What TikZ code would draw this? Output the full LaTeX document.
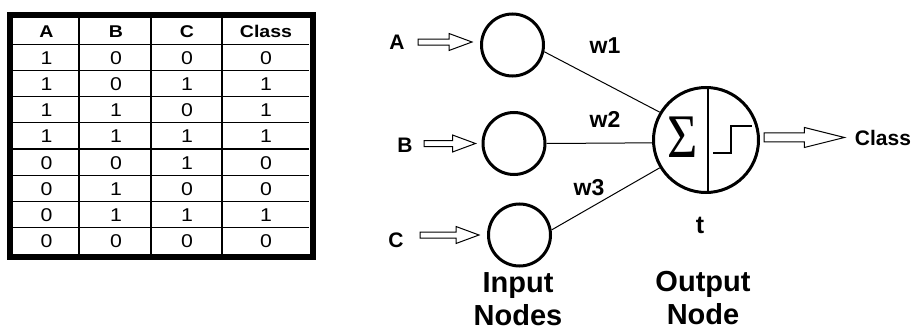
\documentclass[tikz,border=0pt]{standalone}
\usepackage{fontspec}
\setmainfont{Liberation Sans}
\newfontfamily\tablefont[FakeStretch=1.15]{Liberation Sans}
\newfontfamily\sigmafont{Liberation Serif}
\usetikzlibrary{calc}

% hollow block arrow: #1 start point, #2 tip point, #3 shaft half-height,
% #4 head half-height, #5 head length (the arrow runs at the tip's height)
\newcommand{\hollowarrow}[5]{%
  \draw[hollow] let \p1=(#1), \p2=(#2) in
    (\x1,{\y2+#3}) -- ({\x2-#5},{\y2+#3}) -- ({\x2-#5},{\y2+#4}) -- (\x2,\y2)
    -- ({\x2-#5},{\y2-#4}) -- ({\x2-#5},{\y2-#3}) -- (\x1,{\y2-#3}) -- cycle;}

\begin{document}
\begin{tikzpicture}[x=1pt,y=-1pt,
  cell/.style={font=\tablefont\fontsize{18.5}{18.5}\selectfont, anchor=base, inner sep=0pt},
  headcell/.style={font=\tablefont\fontsize{17}{17}\selectfont\bfseries, anchor=base, inner sep=0pt},
  lbl/.style={font=\fontsize{21}{21}\selectfont\bfseries, anchor=base},
  wlbl/.style={font=\fontsize{23}{23}\selectfont\bfseries, anchor=base, inner sep=0pt},
  caption/.style={font=\fontsize{29}{33}\selectfont\bfseries, align=center, anchor=north, inner sep=0pt},
  inode/.style={circle, draw, line width=3pt, minimum size=62pt, inner sep=0pt},
  onode/.style={circle, draw, line width=3pt, minimum size=105pt, inner sep=0pt},
  wire/.style={line width=1pt},
  hollow/.style={draw, line width=1pt, fill=white, line join=miter},
  grid/.style={line width=1.3pt},
]
\useasboundingbox (0,0) rectangle (914,332);

% ---------- truth table ----------
\foreach \cx in {79,151,222} \draw[grid] (\cx,18) -- (\cx,254);
\foreach \r in {1,...,8} \draw[grid] (13,{18+26.2*\r}) -- (309,{18+26.2*\r});
\draw[line width=6pt] (10,15) rectangle (312.5,257);

\foreach \h/\cx [count=\j] in {A/46.5,B/116,C/187,Class/266}
  \node[headcell] (h\j) at (\cx,37) {\h};

\foreach \a/\b/\c/\k [count=\r] in {1/0/0/0,1/0/1/1,1/1/0/1,1/1/1/1,0/0/1/0,0/1/0/0,0/1/1/1,0/0/0/0}{
  \pgfmathsetmacro\yb{18+26.2*\r+13.1+7}
  \node[cell] (r\r a) at (46.5,\yb) {\a};
  \node[cell] (r\r b) at (116,\yb) {\b};
  \node[cell] (r\r c) at (187,\yb) {\c};
  \node[cell] (r\r k) at (266,\yb) {\k};
}

% ---------- perceptron ----------
\node[inode] (ia) at (512.5,45) {};
\node[inode] (ib) at (514,143.5) {};
\node[inode] (ic) at (519.5,235) {};
\node[onode] (out) at (706,140) {};

\node[lbl] (la) at (397,49) {A};
\node[lbl] (lb) at (405,152) {B};
\node[lbl] (lc) at (396,247) {C};

\coordinate (sa) at ($(la.east)+(10,0)$);
\coordinate (sb) at ($(lb.east)+(8,0)$);
\coordinate (sc) at ($(lc.east)+(13,0)$);
\coordinate (ta) at ($(ia.west)+(-8,-3)$);
\coordinate (tb) at ($(ib.west)+(-6,0)$);
\coordinate (tc) at ($(ic.west)+(-8,0)$);
\hollowarrow{sa}{ta}{3pt}{8.5pt}{23pt}
\hollowarrow{sb}{tb}{3pt}{8.5pt}{23pt}
\hollowarrow{sc}{tc}{3pt}{8.5pt}{23pt}

% weighted connections into the output node
\draw[wire] (ia.-12) -- (out.149);
\draw[wire] (ib.east) -- (out.183);
\draw[wire] (ic.9) -- (out.211);

\node[wlbl] (w1) at (605,53) {w1};
\node[wlbl] (w2) at (605,127) {w2};
\node[wlbl] (w3) at (589,195) {w3};

% summation and step function inside the output node
\draw[line width=1.3pt] ($(out.north)+(2,2)$) -- ($(out.south)+(2,-2)$);
\node[inner sep=0pt, font=\sigmafont\fontsize{62}{62}\selectfont] (sigma) at (682.5,137.5) {\scalebox{0.84}[1]{Σ}};
\draw[line width=1.5pt] ($(out.center)+(7,13)$) -- ($(out.center)+(25,13)$)
  -- ($(out.center)+(25,-14)$) -- ($(out.center)+(46,-14)$);

\node[font=\fontsize{25}{25}\selectfont\bfseries, anchor=base, inner sep=0pt] (t) at (700,233) {t};

\node[lbl] (cls) at (883,145) {Class};
\coordinate (so) at ($(out.east)+(4,0)$);
\coordinate (to) at ($(cls.west)+(-7,0)$);
\hollowarrow{so}{to}{4.5pt}{10pt}{40pt}

\node[caption] (inlbl) at (518,272) {Input\\Nodes};
\node[caption] (outlbl) at (703,271) {Output\\Node};
\end{tikzpicture}
\end{document}
